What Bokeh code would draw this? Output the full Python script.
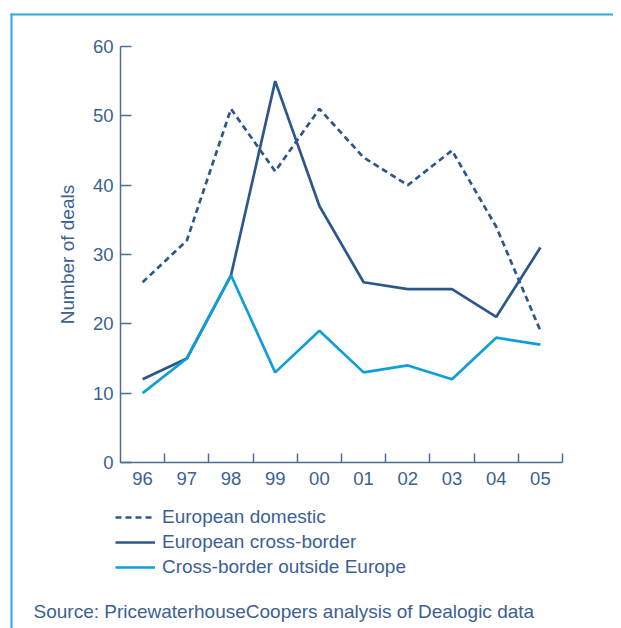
from bokeh.plotting import figure
from bokeh.models import (Range1d, FixedTicker, Legend, LegendItem, Label,
                          BoxAnnotation)
from bokeh.embed import file_html
from bokeh.resources import INLINE

years = ["96", "97", "98", "99", "00", "01", "02", "03", "04", "05"]
european_domestic = [26, 32, 51, 42, 51, 44, 40, 45, 34, 19]
european_cross_border = [12, 15, 27, 55, 37, 26, 25, 25, 21, 31]
cross_border_outside = [10, 15, 27, 13, 19, 13, 14, 12, 18, 17]
y_ticks = [0, 10, 20, 30, 40, 50, 60]

DARK = "#2d578a"
LIGHT = "#0e9fd8"
TEXT = "#3b6192"
AXIS = "#4a6d99"
FRAME = "#29a9e0"
FONT = "Liberation Sans"

# page layout (pixels)
W, H = 613, 628
PL, PR, PT, PB = 120, 562, 46, 462   # where the plotting area lies
X0, X1 = -0.5, len(years) - 0.5
Y0, Y1 = 0, 60
sx = (PR - PL) / (X1 - X0)
sy = (PB - PT) / (Y1 - Y0)

p = figure(width=W, height=H, output_backend="svg", toolbar_location=None,
           x_range=Range1d(X0 - PL / sx, X1 + (W - PR) / sx),
           y_range=Range1d(Y0 - (H - PB) / sy, Y1 + PT / sy),
           min_border=0)
p.outline_line_color = None
p.grid.visible = False
p.background_fill_color = "white"
p.border_fill_color = "white"

xs = list(range(len(years)))
r1 = p.line(xs, european_domestic, line_color=DARK, line_width=2.7,
            line_dash="6 4")
r2 = p.line(xs, european_cross_border, line_color=DARK, line_width=2.7)
r3 = p.line(xs, cross_border_outside, line_color=LIGHT, line_width=2.7)

# x axis
xa = p.xaxis[0]
xa.fixed_location = Y0
xa.bounds = (X0, X1)
xa.ticker = FixedTicker(ticks=xs, minor_ticks=[i + 0.5 for i in xs])
xa.major_label_overrides = {i: y for i, y in enumerate(years)}
xa.major_tick_in = 0
xa.major_tick_out = 0
xa.minor_tick_in = 9
xa.minor_tick_out = 0
xa.minor_tick_line_color = AXIS
xa.minor_tick_line_width = 1.5
xa.axis_line_color = AXIS
xa.axis_line_width = 1.5
xa.major_label_text_color = TEXT
xa.major_label_text_font = FONT
xa.major_label_text_font_size = "18.5px"
xa.major_label_standoff = 9

# y axis
ya = p.yaxis[0]
ya.fixed_location = X0
ya.bounds = (Y0, Y1)
ya.ticker = FixedTicker(ticks=y_ticks, minor_ticks=[])
ya.major_tick_in = 11
ya.major_tick_out = 0
ya.major_tick_line_color = AXIS
ya.major_tick_line_width = 1.5
ya.axis_line_color = AXIS
ya.axis_line_width = 1.5
ya.major_label_text_color = TEXT
ya.major_label_text_font = FONT
ya.major_label_text_font_size = "18.5px"
ya.major_label_standoff = 7
ya.axis_label = "Number of deals"
ya.axis_label_text_font = FONT
ya.axis_label_text_font_size = "19px"
ya.axis_label_text_font_style = "normal"
ya.axis_label_text_color = TEXT
ya.axis_label_standoff = 12

legend = Legend(items=[
    LegendItem(label="European domestic", renderers=[r1]),
    LegendItem(label="European cross-border", renderers=[r2]),
    LegendItem(label="Cross-border outside Europe", renderers=[r3]),
], location=(115, H - 578))
legend.padding = 0
legend.margin = 0
legend.border_line_color = None
legend.background_fill_alpha = 0
legend.glyph_width = 40
legend.glyph_height = 20
legend.label_height = 20
legend.label_standoff = 7
legend.spacing = 3
legend.label_text_font = FONT
legend.label_text_font_size = "19px"
legend.label_text_color = TEXT
p.add_layout(legend, "center")

p.add_layout(Label(x=33, y=H - 611, x_units="screen", y_units="screen",
                   text="Source: PricewaterhouseCoopers analysis of Dealogic data",
                   text_font=FONT, text_font_size="19px", text_color=TEXT,
                   text_baseline="middle"))

# thin framing lines (top and left)
p.add_layout(BoxAnnotation(left=10, right=12, top=H - 13, bottom=-5,
                           left_units="screen", right_units="screen",
                           top_units="screen", bottom_units="screen",
                           fill_color=FRAME, fill_alpha=1, line_alpha=0))
p.add_layout(BoxAnnotation(left=10, right=W + 5, top=H - 13, bottom=H - 15,
                           left_units="screen", right_units="screen",
                           top_units="screen", bottom_units="screen",
                           fill_color=FRAME, fill_alpha=1, line_alpha=0))

open("out.html", "w").write(file_html(p, INLINE))
